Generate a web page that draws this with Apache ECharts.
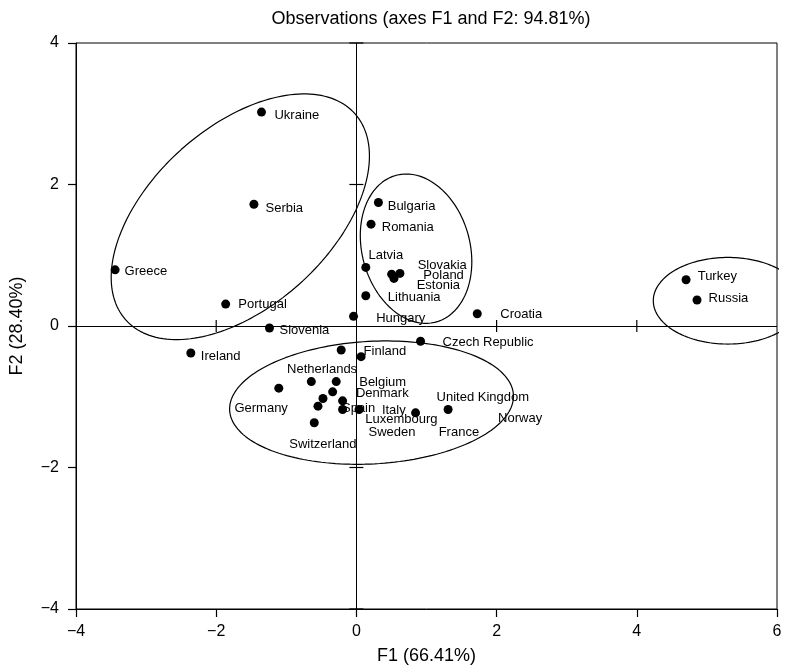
<!DOCTYPE html>
<html>
<head>
<meta charset="utf-8">
<title>Observations (axes F1 and F2: 94.81%)</title>
<script src="https://cdn.jsdelivr.net/npm/echarts@6/dist/echarts.min.js"></script>
<style>
  html, body { margin: 0; padding: 0; background: #fff; }
  #chart { width: 803px; height: 670px; }
</style>
</head>
<body>
<div id="chart"></div>
<script>
// Observation scores on the first two factors
const countries = [
  'Ukraine', 'Serbia', 'Greece', 'Portugal', 'Slovenia', 'Ireland',
  'Bulgaria', 'Romania', 'Latvia', 'Slovakia', 'Poland', 'Estonia', 'Lithuania', 'Hungary',
  'Croatia', 'Czech Republic', 'Turkey', 'Russia',
  'Finland', '', 'Germany', 'Netherlands', 'Belgium', 'Denmark', 'France', 'Spain',
  'Italy', 'Luxembourg', 'Sweden', 'United Kingdom', 'Norway', 'Switzerland'
];
const f1Values = [
  -1.354, -1.462, -3.442, -1.865, -1.240, -2.362,
  0.314, 0.209, 0.134, 0.621, 0.503, 0.536, 0.134, -0.041,
  1.724, 0.915, 4.703, 4.859,
  -0.217, 0.067, -1.107, -0.643, -0.288, -0.339, -0.477, -0.548,
  -0.197, -0.197, 0.038, 0.844, 1.308, -0.601
];
const f2Values = [
  3.023, 1.721, 0.794, 0.310, -0.028, -0.381,
  1.745, 1.439, 0.828, 0.743, 0.733, 0.673, 0.427, 0.137,
  0.173, -0.216, 0.653, 0.367,
  -0.339, -0.433, -0.879, -0.786, -0.786, -0.931, -1.025, -1.133,
  -1.058, -1.181, -1.181, -1.227, -1.181, -1.368
];

// Label placement (pixel offset of each label's left edge from its point)
const labelOffsets = [
  [13, 3], [11.6, 4], [9.4, 2], [12.7, 0.7], [10, 2], [10, 3.7],
  [9.3, 3.4], [10.7, 3.7], [2.7, -11.6], [17.7, -8.3], [31.7, 1.7], [22.7, 7.4], [22, 1.6], [22.6, 2],
  [23, 1], [22, 1], [11.6, -3], [11.6, -2],
  [22.4, 1.7], [0, 0], [-44.4, 20], [-24.3, -12], [23, 1.3], [23.3, 1.7], [115.7, 33.6], [24, 2.7],
  [39.3, 9.7], [22.6, 10], [9.4, 22.6], [21, -15], [50, 8.6], [-25, 21.7]
];

// Group ellipses: centre, semi-axes (F units) and rotation (degrees)
const groupEllipses = [
  { cx: -1.656, cy: 1.544, a: 2.19, b: 1.27, angle: 41.6 },
  { cx: 0.851, cy: 1.093, a: 1.075, b: 0.769, angle: 105.7 },
  { cx: 0.216, cy: -1.083, a: 2.027, b: 0.866, angle: 3.1 },
  { cx: 5.30, cy: 0.357, a: 1.065, b: 0.612, angle: 0 }
];

const xTicks = [-4, -2, 0, 2, 4, 6];
const yTicks = [-4, -2, 0, 2, 4];
// Small crossing ticks along the zero lines
const zeroLineXTicks = [-2, 2, 4];
const zeroLineYTicks = [-4, -2, 2, 4];

const FONT = 'Liberation Sans, Arial, Helvetica, sans-serif';
const INK = '#000';

function ellipsePath(e) {
  const pts = [];
  const th = e.angle * Math.PI / 180;
  const n = 180;
  for (let i = 0; i <= n; i++) {
    const t = 2 * Math.PI * i / n;
    const u = e.a * Math.cos(t), v = e.b * Math.sin(t);
    pts.push([e.cx + u * Math.cos(th) - v * Math.sin(th), e.cy + u * Math.sin(th) + v * Math.cos(th)]);
  }
  return pts;
}

const minus = v => String(v).replace('-', '\u2212');

const pointData = countries.map((name, i) => ({
  name: name,
  value: [f1Values[i], f2Values[i]],
  label: { show: name !== '', offset: labelOffsets[i] }
}));

const ellipseSeries = groupEllipses.map(e => ({
  type: 'line',
  data: ellipsePath(e),
  showSymbol: false,
  symbol: 'none',
  clip: false,
  silent: true,
  smooth: false,
  lineStyle: { color: INK, width: 1.2 },
  z: 3
}));

const crossTickData = zeroLineXTicks.map(v => [v, 0, 0]).concat(zeroLineYTicks.map(v => [0, v, 1]));

const chart = echarts.init(document.getElementById('chart'), null, { renderer: 'canvas' });
chart.setOption({
  animation: false,
  backgroundColor: '#fff',
  textStyle: { fontFamily: FONT },
  title: {
    text: 'Observations (axes F1 and F2: 94.81%)',
    left: 426,
    textAlign: 'center',
    top: 5,
    textStyle: { fontFamily: FONT, fontSize: 18, fontWeight: 'normal', color: '#000' }
  },
  grid: {
    left: 73, right: 26, top: 43, bottom: 60,
    show: true, borderColor: INK, borderWidth: 1, backgroundColor: 'transparent'
  },
  xAxis: {
    type: 'value',
    min: xTicks[0], max: xTicks[xTicks.length - 1], interval: 2,
    name: 'F1 (66.41%)',
    nameLocation: 'middle',
    nameGap: 38,
    nameTextStyle: { fontFamily: FONT, fontSize: 18, color: '#000' },
    axisLine: { onZero: false, lineStyle: { color: INK, width: 1 } },
    axisTick: { inside: false, length: 8, lineStyle: { color: INK, width: 1.2 } },
    axisLabel: { fontSize: 16, color: '#000', margin: 15, formatter: minus, fontFamily: FONT },
    splitLine: { show: false }
  },
  yAxis: {
    type: 'value',
    min: yTicks[0], max: yTicks[yTicks.length - 1], interval: 2,
    name: 'F2 (28.40%)',
    nameLocation: 'middle',
    nameRotate: 90,
    nameGap: 50,
    nameTextStyle: { fontFamily: FONT, fontSize: 18, color: '#000' },
    axisLine: { onZero: false, lineStyle: { color: INK, width: 1 } },
    axisTick: { inside: false, length: 8, lineStyle: { color: INK, width: 1.2 } },
    axisLabel: { fontSize: 16, color: '#000', margin: 17, formatter: minus, fontFamily: FONT },
    splitLine: { show: false }
  },
  series: [
    {
      type: 'custom',
      silent: true,
      z: 2,
      data: crossTickData,
      renderItem: function (params, api) {
        const p = api.coord([api.value(0), api.value(1)]);
        const horizontalLine = api.value(2) === 0;
        const shape = horizontalLine
          ? { x1: p[0], y1: p[1] - 6, x2: p[0], y2: p[1] + 6 }
          : { x1: p[0] - 7, y1: p[1], x2: p[0] + 7, y2: p[1] };
        return { type: 'line', shape: shape, style: { stroke: INK, lineWidth: 1.2 } };
      }
    },
    ...ellipseSeries,
    {
      type: 'scatter',
      symbol: 'circle',
      symbolSize: 9,
      itemStyle: { color: '#000', opacity: 1 },
      z: 5,
      data: pointData,
      label: {
        show: true,
        position: 'inside',
        align: 'left',
        verticalAlign: 'middle',
        formatter: '{b}',
        fontFamily: FONT,
        fontSize: 13,
        color: '#000'
      },
      markLine: {
        silent: true,
        symbol: ['none', 'none'],
        label: { show: false },
        lineStyle: { color: INK, type: 'solid', width: 1 },
        data: [{ xAxis: 0 }, { yAxis: 0 }]
      }
    }
  ]
});
</script>
</body>
</html>
